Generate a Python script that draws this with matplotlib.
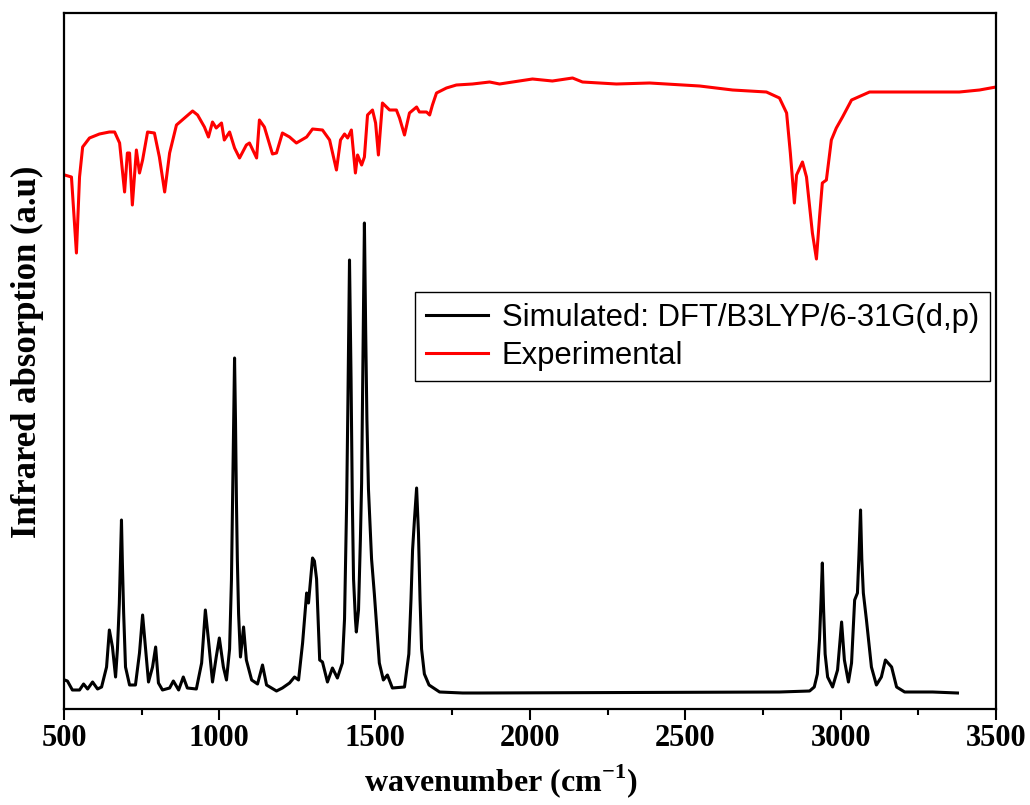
import matplotlib.pyplot as plt
from matplotlib.ticker import MultipleLocator

# experimental spectrum (red)
exp_wn = [502, 524, 540, 550, 560, 582, 614, 646, 663, 679, 695, 704, 711, 720, 733, 743, 753, 769,
          791, 807, 824, 840, 862, 888, 914, 930, 952, 965, 978, 990, 1007, 1016, 1033, 1049, 1065,
          1087, 1097, 1120, 1129, 1145, 1171, 1184, 1203, 1226, 1248, 1281, 1300, 1332, 1355, 1377,
          1390, 1403, 1413, 1425, 1438, 1445, 1458, 1467, 1477, 1493, 1503, 1512, 1525, 1548, 1570,
          1580, 1596, 1612, 1635, 1644, 1667, 1677, 1686, 1699, 1731, 1763, 1815, 1870, 1902, 1944,
          2008, 2072, 2137, 2169, 2278, 2385, 2546, 2652, 2761, 2803, 2826, 2838, 2851, 2858, 2877,
          2890, 2909, 2922, 2932, 2941, 2954, 2970, 2986, 3006, 3035, 3093, 3189, 3295, 3382, 3447,
          3500]
exp_abs = [5.34, 5.32, 4.56, 5.32, 5.62, 5.71, 5.75, 5.77, 5.77, 5.66, 5.17, 5.56, 5.56, 5.04, 5.59,
           5.36, 5.49, 5.77, 5.76, 5.52, 5.17, 5.56, 5.84, 5.91, 5.98, 5.94, 5.82, 5.72, 5.87, 5.81,
           5.86, 5.69, 5.77, 5.61, 5.51, 5.64, 5.66, 5.51, 5.89, 5.82, 5.55, 5.56, 5.76, 5.72, 5.66,
           5.72, 5.80, 5.79, 5.69, 5.39, 5.69, 5.75, 5.71, 5.79, 5.36, 5.54, 5.44, 5.52, 5.94, 5.99,
           5.86, 5.54, 6.06, 5.99, 5.99, 5.91, 5.74, 5.96, 6.02, 5.97, 5.97, 5.94, 6.04, 6.16, 6.21,
           6.24, 6.25, 6.27, 6.25, 6.27, 6.30, 6.28, 6.31, 6.27, 6.25, 6.26, 6.23, 6.19, 6.17, 6.11,
           5.96, 5.56, 5.06, 5.34, 5.47, 5.32, 4.76, 4.50, 4.92, 5.26, 5.29, 5.69, 5.81, 5.92, 6.09,
           6.17, 6.17, 6.17, 6.17, 6.19, 6.22]

# simulated spectrum (black)
sim_wn = [502, 511, 527, 550, 563, 576, 592, 608, 621, 637,
          646, 656, 666, 672, 678, 682, 685, 688, 692, 698,
          711, 730, 743, 753, 762, 772, 785, 795, 804, 817,
          840, 852, 869, 884, 897, 926, 943, 955, 965, 978,
          990, 1000, 1013, 1023, 1033, 1039, 1042, 1046, 1049, 1052,
          1055, 1058, 1062, 1068, 1078, 1087, 1104, 1123, 1139, 1152,
          1184, 1203, 1226, 1242, 1255, 1268, 1281, 1287, 1300, 1306,
          1313, 1323, 1332, 1348, 1364, 1380, 1396, 1403, 1410, 1414,
          1419, 1424, 1428, 1432, 1438, 1441, 1448, 1454, 1458, 1462,
          1467, 1471, 1475, 1480, 1490, 1499, 1515, 1528, 1541, 1557,
          1596, 1610, 1617, 1622, 1628, 1635, 1641, 1646, 1651, 1660,
          1675, 1709, 1783, 1838, 2803, 2900, 2915, 2925, 2932, 2937,
          2941, 2945, 2950, 2958, 2974, 2990, 3003, 3012, 3025, 3035,
          3045, 3054, 3059, 3064, 3068, 3073, 3083, 3099, 3115, 3131,
          3144, 3164, 3180, 3206, 3296, 3376]
sim_abs = [0.29, 0.28, 0.19, 0.19, 0.25, 0.20, 0.27, 0.20, 0.22, 0.42,
           0.79, 0.62, 0.32, 0.60, 1.05, 1.55, 1.89, 1.45, 0.96, 0.42,
           0.24, 0.24, 0.56, 0.94, 0.62, 0.27, 0.42, 0.62, 0.26, 0.19,
           0.21, 0.28, 0.19, 0.32, 0.21, 0.20, 0.46, 0.99, 0.69, 0.27,
           0.52, 0.71, 0.42, 0.29, 0.60, 1.29, 1.96, 2.79, 3.51, 2.89,
           2.09, 1.49, 0.95, 0.52, 0.82, 0.49, 0.29, 0.25, 0.44, 0.24,
           0.18, 0.21, 0.26, 0.32, 0.29, 0.66, 1.16, 1.06, 1.51, 1.48,
           1.30, 0.49, 0.47, 0.27, 0.41, 0.31, 0.46, 0.90, 2.10, 3.10,
           4.49, 3.30, 2.10, 1.30, 0.90, 0.77, 0.99, 1.69, 2.26, 3.40,
           4.86, 3.80, 2.90, 2.20, 1.50, 1.15, 0.46, 0.29, 0.34, 0.21,
           0.22, 0.55, 1.10, 1.59, 1.89, 2.21, 1.76, 1.10, 0.60, 0.35,
           0.24, 0.17, 0.16, 0.16, 0.17, 0.18, 0.22, 0.35, 0.70, 1.10,
           1.46, 1.00, 0.55, 0.32, 0.22, 0.39, 0.87, 0.49, 0.27, 0.46,
           1.09, 1.16, 1.55, 1.99, 1.50, 1.16, 0.89, 0.42, 0.24, 0.32,
           0.49, 0.42, 0.22, 0.17, 0.17, 0.16]

serif = ['Liberation Serif', 'DejaVu Serif']
sans = ['Liberation Sans', 'DejaVu Sans']
plt.rcParams['mathtext.fontset'] = 'custom'
plt.rcParams['mathtext.bf'] = 'Liberation Serif:bold'
plt.rcParams['mathtext.rm'] = 'Liberation Serif:bold'

fig = plt.figure(figsize=(10.30, 8.05), dpi=100)
ax = fig.add_axes([64 / 1030, 1 - 709 / 805, 932 / 1030, 696 / 805])

ax.plot(sim_wn, sim_abs, color='black', lw=2.2, label='Simulated: DFT/B3LYP/6-31G(d,p)')
ax.plot(exp_wn, exp_abs, color='red', lw=2.2, label='Experimental')

ax.set_xlim(500, 3500)
ax.set_ylim(0, 6.96)
ax.xaxis.set_major_locator(MultipleLocator(500))
ax.xaxis.set_minor_locator(MultipleLocator(250))
ax.set_yticks([])
ax.tick_params(axis='x', which='major', direction='out', length=8, width=1.5, pad=3)
ax.tick_params(axis='x', which='minor', direction='out', length=4, width=1.5)
for lab in ax.get_xticklabels():
    lab.set_family(serif)
    lab.set_fontweight('bold')
    lab.set_fontsize(22)
for sp in ax.spines.values():
    sp.set_linewidth(1.6)

ax.set_xlabel('wavenumber (cm$^{\\mathbf{-1}}$)', family=serif, fontweight='bold', fontsize=23)
ax.xaxis.set_label_coords((501 - 64) / 932, -0.076)
ax.set_ylabel('Infrared absorption (a.u)', family=serif, fontweight='bold', fontsize=25)
ax.yaxis.set_label_coords(-0.021, (709 - 352) / 696)

leg = ax.legend(loc='upper left', bbox_to_anchor=(415 / 1030, 1 - 292 / 805), bbox_transform=fig.transFigure,
                prop={'family': sans, 'size': 22.3}, frameon=True, fancybox=False, framealpha=1,
                edgecolor='black', handlelength=2.0, handletextpad=0.45, labelspacing=0.25,
                borderpad=0.35, borderaxespad=0)
leg.get_frame().set_linewidth(1.0)

fig.savefig('out.png', dpi=100)
